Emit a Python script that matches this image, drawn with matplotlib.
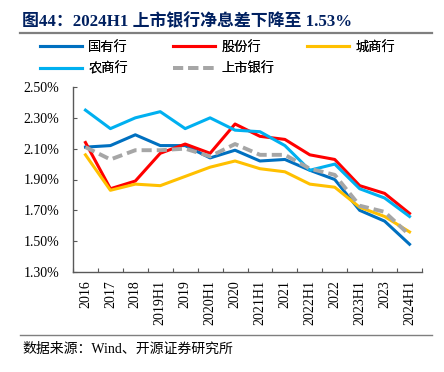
import matplotlib
matplotlib.use("Agg")
import matplotlib.pyplot as plt
from matplotlib.lines import Line2D
from matplotlib.ticker import FixedLocator, FuncFormatter

categories = ['2016', '2017', '2018', '2019H1', '2019', '2020H1', '2020', '2021H1',
              '2021', '2022H1', '2022', '2023H1', '2023', '2024H1']
state_banks = [2.11, 2.12, 2.19, 2.12, 2.12, 2.04, 2.09, 2.02, 2.03, 1.96, 1.90, 1.70, 1.63, 1.48]
joint_stock = [2.14, 1.84, 1.89, 2.07, 2.13, 2.07, 2.26, 2.18, 2.16, 2.06, 2.03, 1.86, 1.81, 1.68]
city_banks = [2.06, 1.83, 1.87, 1.86, 1.92, 1.98, 2.02, 1.97, 1.95, 1.87, 1.85, 1.72, 1.66, 1.56]
rural_banks = [2.35, 2.23, 2.30, 2.34, 2.23, 2.30, 2.22, 2.21, 2.12, 1.96, 2.00, 1.84, 1.78, 1.66]
listed_banks = [2.11, 2.03, 2.09, 2.09, 2.10, 2.05, 2.13, 2.06, 2.06, 1.97, 1.93, 1.73, 1.69, 1.54]
yticks = [1.30, 1.50, 1.70, 1.90, 2.10, 2.30, 2.50]

CJK = ['Noto Sans CJK SC', 'DejaVu Sans']
MIX = ['Liberation Serif', 'Noto Sans CJK SC', 'DejaVu Sans']

W, H = 444, 372
fig = plt.figure(figsize=(W / 100, H / 100), dpi=100)
ax = fig.add_axes([73 / W, 1 - 272 / H, (422 - 73) / W, (272 - 87) / H])

x = list(range(len(categories)))
l1, = ax.plot(x, state_banks, color='#0070C0', lw=2.2, label='国有行')
l2, = ax.plot(x, joint_stock, color='#FF0000', lw=2.2, label='股份行')
l3, = ax.plot(x, city_banks, color='#FFC000', lw=2.2, label='城商行')
l4, = ax.plot(x, rural_banks, color='#00B0F0', lw=2.2, label='农商行')
l5, = ax.plot(x, listed_banks, color='#A6A6A6', lw=2.8, dashes=(2.6, 1.3),
              dash_capstyle='butt', label='上市银行')

ax.set_xlim(-0.5, len(categories) - 0.5)
ax.set_ylim(1.30, 2.50)
ax.set_yticks(yticks)
ax.yaxis.set_major_formatter(FuncFormatter(lambda v, p: f'{v:.2f}%'))
ax.set_xticks(x)
ax.set_xticklabels(categories, rotation=90)
ax.xaxis.set_minor_locator(FixedLocator([i - 0.5 for i in range(len(categories) + 1)]))

for s in ['top', 'right']:
    ax.spines[s].set_visible(False)
for s in ['left', 'bottom']:
    ax.spines[s].set_color('#595959')
    ax.spines[s].set_linewidth(1.0)

ax.tick_params(axis='x', which='major', length=0, pad=6, labelsize=10, labelcolor='black')
ax.tick_params(axis='x', which='minor', direction='in', length=3, width=0.8, color='#595959')
ax.tick_params(axis='y', which='major', direction='in', length=3, width=0.8, color='#595959',
               pad=10, labelsize=10, labelcolor='black')
for lab in ax.get_xticklabels() + ax.get_yticklabels():
    lab.set_family('Liberation Serif')

# title and rules
fig.text(22 / W, 1 - 21.5 / H, '图44：2024H1 上市银行净息差下降至 1.53%', family=MIX,
         fontsize=12.2, fontweight='bold', color='#002060', va='center', ha='left')
fig.add_artist(Line2D([20 / W, 432 / W], [1 - 33 / H, 1 - 33 / H], color='#7F7F7F', lw=1.6))
fig.add_artist(Line2D([20 / W, 432 / W], [1 - 335 / H, 1 - 335 / H], color='#7F7F7F', lw=1.0))
fig.text(22 / W, 1 - 349 / H, '数据来源：Wind、开源证券研究所', family=MIX,
         fontsize=10, color='black', va='center', ha='left')

# legend: three columns placed at fixed positions
columns = [([l1, l4], 40), ([l2, l5], 173), ([l3], 307)]
for hs, xpix in columns:
    leg = fig.legend(handles=hs, labels=[h.get_label() for h in hs], ncol=1,
                     loc='upper left', bbox_to_anchor=(xpix / W, 1 - 41 / H), frameon=False,
                     borderaxespad=0, borderpad=0, handlelength=3.2, handletextpad=0.45,
                     labelspacing=0.62, prop={'family': CJK, 'size': 9.5})
    fig.add_artist(leg)

fig.savefig('out.png', dpi=100)
